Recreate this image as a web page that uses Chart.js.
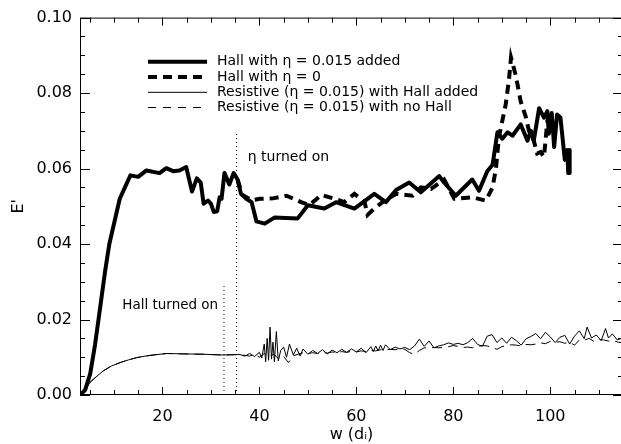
<!DOCTYPE html>
<html><head><meta charset="utf-8">
<script src="https://cdn.jsdelivr.net/npm/chart.js@4.4.0/dist/chart.umd.min.js"></script>
<style>html,body{margin:0;padding:0;background:#fff;overflow:hidden}#wrap{width:630px;height:444px;position:relative}</style>
</head><body><div id="wrap"><canvas id="c"></canvas></div>
<script>
// ---- data ----
const seriesNames = [
  "Hall with \u03B7 = 0.015 added",
  "Hall with \u03B7 = 0",
  "Resistive (\u03B7 = 0.015) with Hall added",
  "Resistive (\u03B7 = 0.015) with no Hall"
];
const xTickLabels = [20, 40, 60, 80, 100];
const yTickLabels = [0.00, 0.02, 0.04, 0.06, 0.08, 0.10];

const hallEtaX = [3, 4.05, 5.1, 6.1, 7.3, 8.2, 9.05, 11.2, 13.4, 15.0, 16.7, 19.4, 20.8, 22.2, 23.5, 24.9, 26.1, 27.1, 27.9, 28.5, 29.4, 30.0, 30.6, 31.3, 31.8, 32.2, 32.8, 33.8, 34.7, 35.5, 36.2, 37.3, 38.4, 39.4, 41.1, 43.1, 47.9, 50.0, 53.4, 55.8, 59.6, 63.7, 66.1, 68.2, 70.9, 73.3, 77.1, 78.1, 80.5, 83.9, 85.3, 87.0, 88.1, 89.1, 90.1, 91.2, 92.2, 93.9, 95.3, 96.0, 96.6, 97.7, 98.7, 99.4, 99.7, 100.3, 100.8, 101.4, 102.1, 103.0, 103.5, 103.7, 103.9, 104.0];
const hallEtaY = [0, 0.0013, 0.0056, 0.0133, 0.0245, 0.0330, 0.0400, 0.0520, 0.0582, 0.0578, 0.0595, 0.0588, 0.0601, 0.0593, 0.0595, 0.0604, 0.0539, 0.0574, 0.0563, 0.0507, 0.0515, 0.0507, 0.0485, 0.0487, 0.0524, 0.0520, 0.0588, 0.0558, 0.0588, 0.0571, 0.0533, 0.0520, 0.0511, 0.0460, 0.0454, 0.0470, 0.0468, 0.0503, 0.0494, 0.0511, 0.0494, 0.0533, 0.0511, 0.0543, 0.0563, 0.0537, 0.0580, 0.0563, 0.0528, 0.0571, 0.0541, 0.0593, 0.0610, 0.0696, 0.0679, 0.0696, 0.0687, 0.0717, 0.0674, 0.0700, 0.0674, 0.0760, 0.0735, 0.0752, 0.0692, 0.0747, 0.0657, 0.0743, 0.0735, 0.0623, 0.0649, 0.0588, 0.0649, 0.0588];

const hallZeroX = [35.5, 36.5, 38.4, 40.1, 42.8, 45.6, 48.6, 50.3, 52.8, 55.5, 57.5, 59.6, 61.7, 62.3, 63.7, 65.4, 68.2, 71.6, 73.3, 75.4, 78.1, 80.2, 83.9, 86.7, 88.1, 88.8, 89.4, 90.8, 91.5, 91.9, 92.9, 93.9, 94.9, 95.6, 96.6, 97.3, 98.0, 98.7, 99.4, 100.1, 100.5];
const hallZeroY = [0.0571, 0.0530, 0.0516, 0.0520, 0.0521, 0.0528, 0.0511, 0.0503, 0.0530, 0.0520, 0.0511, 0.0533, 0.0511, 0.0477, 0.0494, 0.0511, 0.0533, 0.0528, 0.0550, 0.0546, 0.0571, 0.0520, 0.0524, 0.0515, 0.0550, 0.0601, 0.0683, 0.0769, 0.0838, 0.0894, 0.0846, 0.0778, 0.0739, 0.0700, 0.0674, 0.0640, 0.0644, 0.0631, 0.0726, 0.0747, 0.0735];

const resHallX = [3, 4, 5.1, 6.5, 7.8, 9.5, 11.3, 13, 14.7, 16.4, 18.1, 20.9, 24, 28.4, 32.5, 35.3, 36, 37, 38, 39, 40, 40.5, 41, 41.3, 41.6, 41.9, 42.2, 42.5, 42.8, 43.1, 43.5, 43.9, 44.4, 45, 45.6, 46.2, 47, 47.7, 48.4, 49, 50, 51, 52, 53, 54, 55, 56, 57, 58, 59, 60, 61, 62, 63, 63.5, 64, 64.5, 65, 65.5, 66, 67, 68, 69, 70, 71, 72, 73, 74, 75, 76, 77, 78, 79, 80, 81, 82, 83, 84, 85, 86, 87, 88, 89, 90, 91, 92, 93, 94, 95, 96, 97, 98, 99, 100, 101, 102, 103, 104, 105, 106, 107, 107.6, 108.5, 109.5, 110.5, 111.4, 112, 112.8, 113.8, 114.6];
const resHallY = [0, 0.0013, 0.0034, 0.0050, 0.0064, 0.0077, 0.0086, 0.0093, 0.0099, 0.0103, 0.0106, 0.0110, 0.0109, 0.0108, 0.0106, 0.0107, 0.0107, 0.0103, 0.0110, 0.0102, 0.0113, 0.0098, 0.0135, 0.0088, 0.0150, 0.0092, 0.0180, 0.0095, 0.0140, 0.0088, 0.0168, 0.0090, 0.0118, 0.0127, 0.0100, 0.0135, 0.0106, 0.0124, 0.0103, 0.0122, 0.0108, 0.0118, 0.0110, 0.0120, 0.0109, 0.0119, 0.0112, 0.0121, 0.0113, 0.0122, 0.0114, 0.0124, 0.0112, 0.0128, 0.0115, 0.0130, 0.0117, 0.0132, 0.0118, 0.0133, 0.0120, 0.0127, 0.0122, 0.0126, 0.0120, 0.0130, 0.0148, 0.0129, 0.0143, 0.0125, 0.0130, 0.0133, 0.0138, 0.0134, 0.0137, 0.0133, 0.0139, 0.0150, 0.0134, 0.0129, 0.0156, 0.0160, 0.0139, 0.0151, 0.0137, 0.0153, 0.0144, 0.0132, 0.0149, 0.0155, 0.0163, 0.0149, 0.0166, 0.0154, 0.0139, 0.0153, 0.0158, 0.0135, 0.0156, 0.0170, 0.0149, 0.0180, 0.0151, 0.0159, 0.0144, 0.0176, 0.0151, 0.0162, 0.0146, 0.0150];

const resNoHallX = [3, 4, 5.1, 6.5, 7.8, 9.5, 11.3, 13, 14.7, 16.4, 18.1, 20.9, 24, 28.4, 32.5, 35.3, 37, 38, 39, 40, 41, 42, 43, 44, 45, 46, 47, 48, 49, 50, 51, 52, 53, 54, 55, 56, 57, 58, 59, 60, 61, 62, 63, 64, 65, 66, 67, 68, 69, 70, 71, 72, 73, 74, 75, 76, 77, 78, 79, 80, 81, 82, 83, 84, 85, 86, 87, 88, 89, 90, 91, 92, 93, 94, 95, 96, 97, 98, 99, 100, 101, 102, 103, 104, 105, 106, 107, 108, 109, 110, 111, 112, 113, 114, 114.6];
const resNoHallY = [0, 0.0013, 0.0034, 0.0050, 0.0064, 0.0077, 0.0086, 0.0093, 0.0099, 0.0103, 0.0106, 0.0110, 0.0109, 0.0108, 0.0106, 0.0107, 0.0105, 0.0103, 0.0108, 0.0100, 0.0110, 0.0102, 0.0108, 0.0095, 0.0102, 0.0086, 0.0104, 0.0108, 0.0112, 0.0110, 0.0112, 0.0110, 0.0113, 0.0111, 0.0114, 0.0112, 0.0115, 0.0113, 0.0116, 0.0114, 0.0117, 0.0115, 0.0118, 0.0117, 0.0120, 0.0119, 0.0121, 0.0120, 0.0122, 0.0121, 0.0112, 0.0108, 0.0118, 0.0125, 0.0124, 0.0126, 0.0125, 0.0126, 0.0128, 0.0131, 0.0129, 0.0126, 0.0127, 0.0125, 0.0129, 0.0131, 0.0130, 0.0126, 0.0121, 0.0128, 0.0131, 0.0133, 0.0132, 0.0130, 0.0134, 0.0133, 0.0135, 0.0138, 0.0136, 0.0142, 0.0140, 0.0141, 0.0137, 0.0140, 0.0132, 0.0146, 0.0145, 0.0150, 0.0142, 0.0147, 0.0146, 0.0143, 0.0144, 0.0140, 0.0139];

// vertical marker lines
const hallOnX = 32.7, hallOnTop = 0.0296;
const etaOnX = 35.3, etaOnTop = 0.0693;
const hallOnLabel = "Hall turned on";
const etaOnLabel = "\u03B7 turned on";
const xTitle = "w (d\u1D62)";
const yTitle = "E'";

// ---- helpers ----
const pts = (xs, ys) => xs.map((x, i) => ({x, y: ys[i]}));
const FONT = "'DejaVu Sans', sans-serif";

const decor = {
  id: 'decor',
  afterDraw(chart) {
    const ctx = chart.ctx, ca = chart.chartArea;
    const xs = chart.scales.x, ys = chart.scales.y;
    ctx.save();
    ctx.strokeStyle = '#000'; ctx.lineWidth = 1;
    // box
    ctx.strokeRect(ca.left + 0.5, ca.top + 0.5, ca.right - ca.left - 1, ca.bottom - ca.top - 1);
    // x ticks (bottom & top, inward)
    ctx.beginPath();
    for (let v = 5; v <= 115; v += 5) {
      const px = Math.round(xs.getPixelForValue(v)) + 0.5;
      const len = (v % 20 === 0) ? 8 : 5;
      ctx.moveTo(px, ca.bottom); ctx.lineTo(px, ca.bottom - len);
      ctx.moveTo(px, ca.top); ctx.lineTo(px, ca.top + len);
    }
    // y ticks (left & right, inward)
    for (let k = 0; k <= 20; k++) {
      const v = k * 0.005;
      const py = Math.round(ys.getPixelForValue(v)) + 0.5;
      const len = (k % 4 === 0) ? 10 : 5;
      ctx.moveTo(ca.left, py); ctx.lineTo(ca.left + len, py);
      ctx.moveTo(ca.right, py); ctx.lineTo(ca.right - len, py);
    }
    ctx.stroke();

    // annotations
    ctx.fillStyle = '#000';
    ctx.font = '13.5px ' + FONT;
    ctx.textBaseline = 'middle';
    ctx.textAlign = 'right';
    ctx.fillText(hallOnLabel, xs.getPixelForValue(31.5), ys.getPixelForValue(0.0237));
    ctx.textAlign = 'left';
    ctx.font = '14px ' + FONT;
    ctx.fillText(etaOnLabel, xs.getPixelForValue(37.6), ys.getPixelForValue(0.0631));

    // legend
    const rows = [61.7, 77, 92.3, 107.5];
    const styles = [
      {w: 4, dash: []}, {w: 4, dash: [9, 6]}, {w: 1, dash: []}, {w: 1, dash: [8, 7]}
    ];
    ctx.font = '14px ' + FONT;
    for (let i = 0; i < 4; i++) {
      ctx.beginPath();
      ctx.lineWidth = styles[i].w;
      ctx.setLineDash(styles[i].dash);
      ctx.lineCap = 'butt';
      ctx.moveTo(148, rows[i]); ctx.lineTo(207, rows[i]);
      ctx.stroke();
      ctx.setLineDash([]);
      ctx.fillText(seriesNames[i], 217, rows[i]);
    }
    ctx.restore();
  }
};

new Chart(document.getElementById('c'), {
  type: 'line',
  data: {
    datasets: [
      {label: seriesNames[2], data: pts(resHallX, resHallY), borderColor: '#000', borderWidth: 1, pointRadius: 0, tension: 0},
      {label: seriesNames[3], data: pts(resNoHallX, resNoHallY), borderColor: '#000', borderWidth: 1, borderDash: [10, 6], pointRadius: 0, tension: 0},
      {label: seriesNames[1], data: pts(hallZeroX, hallZeroY), borderColor: '#000', borderWidth: 4, borderDash: [9, 6], pointRadius: 0, tension: 0},
      {label: seriesNames[0], data: pts(hallEtaX, hallEtaY), borderColor: '#000', borderWidth: 4, borderJoinStyle: 'round', pointRadius: 0, tension: 0},
      {label: 'hallOn', data: [{x: hallOnX, y: 0}, {x: hallOnX, y: hallOnTop}], borderColor: '#000', borderWidth: 1, borderDash: [1, 3], pointRadius: 0},
      {label: 'etaOn', data: [{x: etaOnX, y: 0}, {x: etaOnX, y: etaOnTop}], borderColor: '#000', borderWidth: 1, borderDash: [1, 3], pointRadius: 0}
    ]
  },
  options: {
    responsive: true, maintainAspectRatio: false, animation: false, devicePixelRatio: 1,
    layout: {padding: {top: 7, right: 7, left: 0, bottom: 0}},
    plugins: {legend: {display: false}, tooltip: {enabled: false}},
    scales: {
      x: {
        type: 'linear', min: 3, max: 115,
        grid: {display: false, drawTicks: false},
        border: {display: false},
        afterBuildTicks: s => { s.ticks = xTickLabels.map(v => ({value: v})); },
        afterFit: s => { s.height = 49; },
        ticks: {color: '#000', padding: 12, font: {family: FONT, size: 16}, maxRotation: 0, callback: v => String(v)},
        title: {display: true, text: xTitle, color: '#000', font: {family: FONT, size: 16}, padding: {top: 0, bottom: 0}}
      },
      y: {
        type: 'linear', min: 0, max: 0.1,
        grid: {display: false, drawTicks: false},
        border: {display: false},
        afterBuildTicks: s => { s.ticks = yTickLabels.map(v => ({value: v})); },
        afterFit: s => { s.width = 80; },
        ticks: {color: '#000', padding: 8, font: {family: FONT, size: 16}, callback: v => Number(v).toFixed(2)},
        title: {display: true, text: yTitle, color: '#000', font: {family: FONT, size: 16}, padding: {top: 9, bottom: 0}}
      }
    }
  },
  plugins: [decor]
});
</script>
</body></html>
